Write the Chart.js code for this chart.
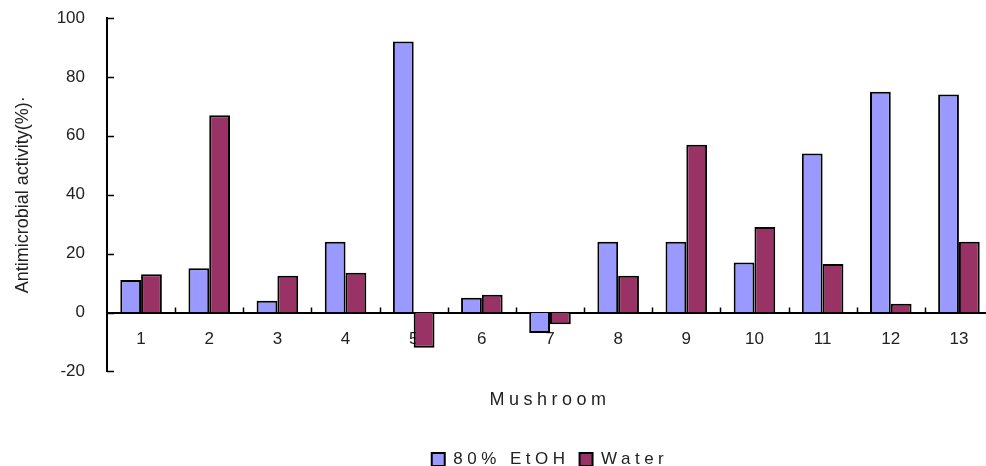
<!DOCTYPE html>
<html>
<head>
<meta charset="utf-8">
<script src="https://cdn.jsdelivr.net/npm/chart.js@4/dist/chart.umd.min.js"></script>
<style>
    html, body { margin: 0; padding: 0; background: #fff; overflow: hidden; }
    #wrap { width: 993px; height: 466px; }
</style>
</head>
<body>
<div id="wrap"><canvas id="chart"></canvas></div>
<script>
// Chart data
const mushrooms = ['1', '2', '3', '4', '5', '6', '7', '8', '9', '10', '11', '12', '13'];
const ethanolValues = [11, 15, 4, 24, 92, 5, -7, 24, 24, 17, 54, 75, 74];
const waterValues = [13, 67, 12.5, 13.5, -12, 6, -4, 12.5, 57, 29, 16.5, 3, 24];
const yTicks = [-20, 0, 20, 40, 60, 80, 100];

const FONT = 'Liberation Sans, Arial, sans-serif';

// Draws the short inward tick marks on both axes
const innerTicks = {
    id: 'innerTicks',
    afterDatasetsDraw(chart) {
        const { ctx, scales: { x, y } } = chart;
        const y0 = y.getPixelForValue(0);
        const half = (x.getPixelForValue(1) - x.getPixelForValue(0)) / 2;
        ctx.save();
        ctx.strokeStyle = '#000';
        ctx.lineWidth = 1.5;
        ctx.beginPath();
        yTicks.forEach(v => {
            const py = Math.round(y.getPixelForValue(v)) + 0.5;
            ctx.moveTo(x.left, py);
            ctx.lineTo(x.left + 7, py);
        });
        for (let i = 1; i < mushrooms.length; i++) {
            const px = Math.round(x.getPixelForValue(i) - half) + 0.5;
            ctx.moveTo(px, y0);
            ctx.lineTo(px, y0 - 5);
        }
        ctx.stroke();
        ctx.restore();
    }
};

// Wider letter spacing for the legend (axis title + entries)
const spacedLegend = {
    id: 'spacedLegend',
    beforeLayout(chart) {
        const lg = chart.legend;
        if (!lg || lg._spaced) return;
        lg._spaced = true;
        ['fit', 'draw'].forEach(m => {
            const orig = lg[m].bind(lg);
            lg[m] = (...args) => {
                const c = lg.ctx;
                const old = c.letterSpacing;
                c.letterSpacing = '4.5px';
                orig(...args);
                c.letterSpacing = old;
            };
        });
    }
};

new Chart(document.getElementById('chart'), {
    type: 'bar',
    data: {
        labels: mushrooms,
        datasets: [{
            label: '80% EtOH',
            data: ethanolValues,
            backgroundColor: '#9999FF',
            borderColor: '#000',
            borderWidth: 2
        }, {
            label: 'Water',
            data: waterValues,
            backgroundColor: '#993366',
            borderColor: '#000',
            borderWidth: 2
        }]
    },
    options: {
        responsive: true,
        maintainAspectRatio: false,
        animation: false,
        datasets: {
            bar: { categoryPercentage: 0.61, barPercentage: 1 }
        },
        layout: { padding: { top: 18, right: 0, left: 0, bottom: -12 } },
        scales: {
            x: {
                position: { y: 0 },
                grid: { drawOnChartArea: false, drawTicks: true, tickLength: 11, tickColor: 'transparent' },
                border: { color: '#000', width: 2 },
                ticks: {
                    color: '#222',
                    padding: 6,
                    font: { family: FONT, size: 17 }
                }
            },
            y: {
                min: -20,
                max: 100,
                afterFit: s => { s.width = 107; },
                afterBuildTicks: s => { s.ticks = yTicks.map(v => ({ value: v })); },
                grid: { drawOnChartArea: false, drawTicks: true, tickLength: 19, tickColor: 'transparent' },
                border: { color: '#000', width: 2 },
                ticks: {
                    color: '#222',
                    padding: 3,
                    font: { family: FONT, size: 17 }
                },
                title: {
                    display: true,
                    text: 'Antimicrobial activity(%)·',
                    color: '#222',
                    padding: { top: 12, bottom: 0 },
                    font: { family: FONT, size: 18 }
                }
            }
        },
        plugins: {
            tooltip: { enabled: false },
            legend: {
                position: 'bottom',
                fullSize: false,
                title: {
                    display: true,
                    text: 'Mushroom',
                    color: '#222',
                    padding: { top: 20, bottom: 28 },
                    font: { family: FONT, size: 18 }
                },
                labels: {
                    color: '#222',
                    boxWidth: 13,
                    boxHeight: 13,
                    padding: 10,
                    font: { family: FONT, size: 17 }
                }
            }
        }
    },
    plugins: [innerTicks, spacedLegend]
});
</script>
</body>
</html>
